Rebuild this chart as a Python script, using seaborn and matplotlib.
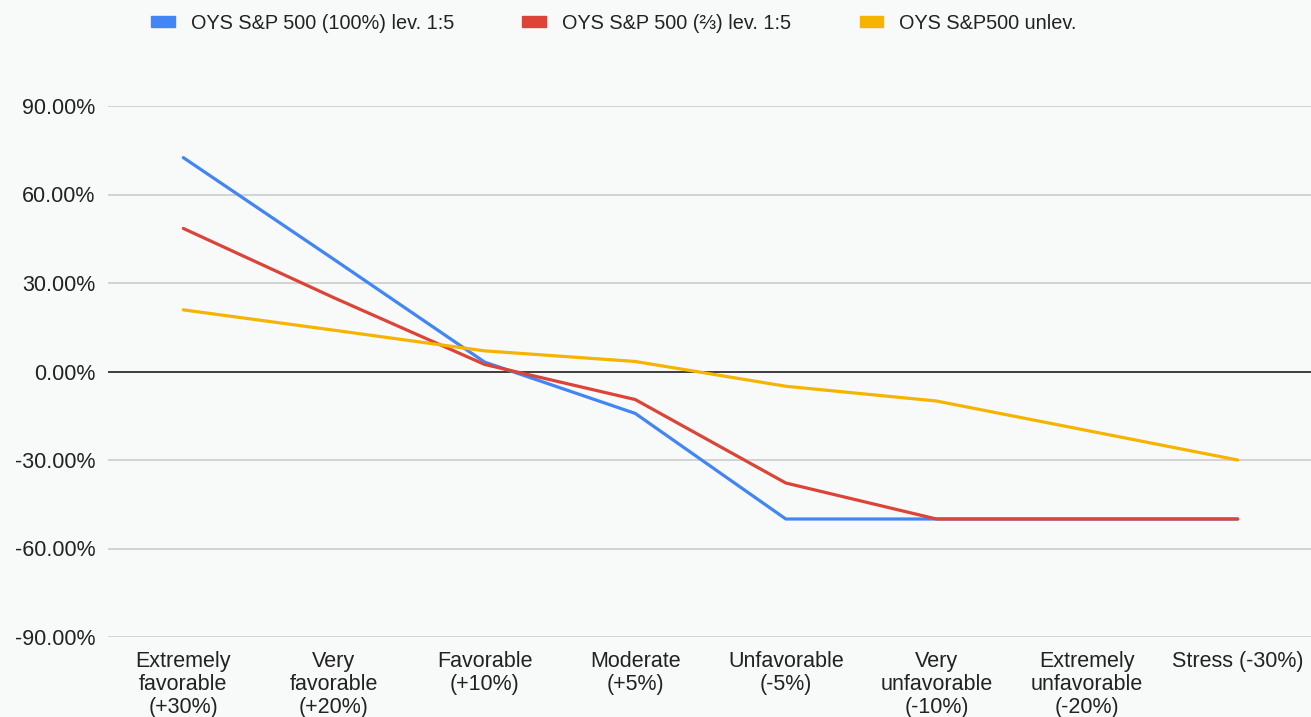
import numpy as np
import pandas as pd
import seaborn as sns
import matplotlib.pyplot as plt
from matplotlib.ticker import FuncFormatter
from matplotlib.patches import Patch

# scenario labels (x axis)
scenarios = ['Extremely\nfavorable\n(+30%)', 'Very\nfavorable\n(+20%)', 'Favorable\n(+10%)',
             'Moderate\n(+5%)', 'Unfavorable\n(-5%)', 'Very\nunfavorable\n(-10%)',
             'Extremely\nunfavorable\n(-20%)', 'Stress (-30%)']

# returns in percent
lev_100 = [72.5, 38.0, 3.2, -14.2, -50.0, -50.0, -50.0, -50.0]
lev_23 = [48.5, 25.0, 2.4, -9.5, -37.8, -50.0, -50.0, -50.0]
unlev = [20.9, 14.0, 7.0, 3.4, -5.0, -10.0, -20.0, -30.0]

series_names = ['OYS S&P 500 (100%) lev. 1:5', 'OYS S&P 500 (⅔) lev. 1:5', 'OYS S&P500 unlev.']
colors = ['#4285f4', '#db4437', '#f4b400']

df = pd.concat([
    pd.DataFrame({'x': range(len(scenarios)), 'ret': vals, 'series': name})
    for name, vals in zip(series_names, [lev_100, lev_23, unlev])
])

sns.set_style('white')
plt.rcParams['font.family'] = ['Liberation Sans', 'DejaVu Sans']

bg = '#f8f9f9'
fig = plt.figure(figsize=(13.11, 7.17), dpi=100, facecolor=bg)
ax = fig.add_axes([108 / 1311, 1 - 637 / 717, (1313 - 108) / 1311, (637 - 106) / 717])
ax.set_facecolor(bg)

sns.lineplot(data=df, x='x', y='ret', hue='series', palette=colors,
             linewidth=2.3, ax=ax, legend=False, zorder=3)

ax.set_xlim(-0.5, len(scenarios) - 0.5)
ax.set_ylim(-90, 90)
ax.set_yticks([-90, -60, -30, 0, 30, 60, 90])
ax.yaxis.set_major_formatter(FuncFormatter(lambda v, p: f'{v:.2f}%'))
ax.set_xticks(range(len(scenarios)))
ax.set_xticklabels(scenarios, linespacing=1.12)
ax.tick_params(axis='both', length=0, labelsize=15.5, colors='#222222')
ax.tick_params(axis='y', pad=9)
ax.tick_params(axis='x', pad=10)

ax.grid(axis='y', color='#cccccc', linewidth=1.2, zorder=0)
ax.axhline(0, color='#333333', linewidth=1.3, zorder=2)
for s in ax.spines.values():
    s.set_visible(False)
ax.set_xlabel('')
ax.set_ylabel('')

handles = [Patch(color=c) for c in colors]
fig.legend(handles, series_names, loc='upper left', bbox_to_anchor=(133 / 1311, 1.006),
           ncol=3, frameon=False, fontsize=14.3, handlelength=1.2, handleheight=0.45,
           columnspacing=3.45, handletextpad=0.8, labelcolor='#222222')

fig.savefig('out.png', dpi=100, facecolor=bg)
